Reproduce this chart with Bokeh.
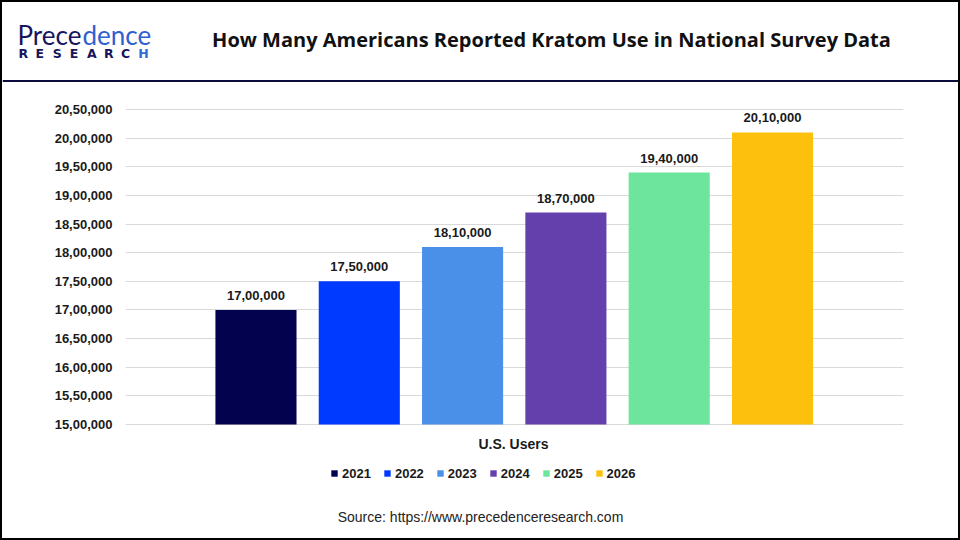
from bokeh.plotting import figure
from bokeh.models import (ColumnDataSource, Range1d, FixedTicker, LabelSet,
                          Legend, LegendItem, Span)
from bokeh.layouts import column
from bokeh.core.properties import value
from bokeh.embed import file_html
from bokeh.resources import INLINE

# data
years = ["2021", "2022", "2023", "2024", "2025", "2026"]
users = [1700000, 1750000, 1810000, 1870000, 1940000, 2010000]
value_labels = ["17,00,000", "17,50,000", "18,10,000", "18,70,000", "19,40,000", "20,10,000"]
colours = ["#02024F", "#0039FF", "#4A90E8", "#6440AC", "#6DE59C", "#FDC00C"]
y_ticks = [1500000, 1550000, 1600000, 1650000, 1700000, 1750000, 1800000,
           1850000, 1900000, 1950000, 2000000, 2050000]
y_tick_labels = ["15,00,000", "15,50,000", "16,00,000", "16,50,000", "17,00,000", "17,50,000",
                 "18,00,000", "18,50,000", "19,00,000", "19,50,000", "20,00,000", "20,50,000"]
title = "How Many Americans Reported Kratom Use in National Survey Data"
x_title = "U.S. Users"
source_note = "Source: https://www.precedenceresearch.com"

FONT = "Liberation Sans"
INK = "#1a1a1a"
NAVY = "#16155E"


def blank(h, y0, y1):
    # a figure whose frame is the whole canvas, data units = reference pixels
    f = figure(width=956, height=h, output_backend="svg", toolbar_location=None,
               x_range=Range1d(2, 958), y_range=Range1d(y1, y0),
               min_border=0, min_border_left=0, min_border_right=0,
               min_border_top=0, min_border_bottom=0)
    f.frame_align = False
    f.axis.visible = False
    f.grid.grid_line_color = None
    f.outline_line_color = None
    return f


def txt(f, x, y, s, size, colour=INK, style="bold", font=FONT, align="center"):
    f.text(x=[x], y=[y], text=[s], text_font=value(font), text_font_size=size,
           text_font_style=style, text_color=colour, text_align=align, text_baseline="middle")


# header: logo, title, rule
head = blank(80, 2, 82)
txt(head, 17, 34, "Prece", "26px", colour=NAVY, style="normal", font="Lato", align="left")
txt(head, 82, 34, "dence", "26px", colour="#2F5FD0", style="normal", font="Lato", align="left")
for k, ch in enumerate("RESEARCH"):
    txt(head, 18 + k * 17.1, 52.5, ch, "12.5px", colour="#2F6BD8" if k == 7 else NAVY,
        font="DejaVu Sans", align="left")
txt(head, 551, 38.5, title, "20px", colour="#111111", font="Open Sans")
head.add_layout(Span(location=80.7, dimension="width", line_color="#0B0B3D", line_width=2.5))

# main chart
step = 550000 / 315
p = figure(width=956, height=350, output_backend="svg", toolbar_location=None,
           x_range=Range1d(-1.263, 6.268), y_range=Range1d(1500000 - step, 2050000 + step),
           min_border_left=123, min_border_right=55, min_border_top=26, min_border_bottom=7)
p.frame_align = False
p.outline_line_color = None

src = ColumnDataSource(dict(x=list(range(len(years))), users=users, lab=value_labels))
for i, yr in enumerate(years):
    p.vbar(x=[i], top=[users[i]], bottom=1500000, width=0.785,
           fill_color=colours[i], line_color=None)

p.add_layout(LabelSet(x="x", y="users", text="lab", source=src, text_align="center",
                      text_baseline="alphabetic", y_offset=10, text_font=value(FONT),
                      text_font_style="bold", text_font_size="13px", text_color=INK))

p.xaxis.visible = False
p.xgrid.grid_line_color = None
p.yaxis.ticker = FixedTicker(ticks=y_ticks)
p.yaxis.major_label_overrides = {t: l for t, l in zip(y_ticks, y_tick_labels)}
p.yaxis.axis_line_color = None
p.yaxis.major_tick_line_color = None
p.yaxis.minor_tick_line_color = None
p.yaxis.major_tick_out = 0
p.yaxis.major_tick_in = 0
p.yaxis.major_label_standoff = 13
p.yaxis.major_label_text_font = FONT
p.yaxis.major_label_text_font_style = "bold"
p.yaxis.major_label_text_font_size = "13px"
p.yaxis.major_label_text_color = INK
p.ygrid.grid_line_color = "#d9d9d9"
p.ygrid.grid_line_width = 1

# footer: category name, legend, source
foot = blank(106, 432, 538)
txt(foot, 513, 443, x_title, "14px")
txt(foot, 480, 516.5, source_note, "14px", colour="#222222", style="normal")
items = []
for i, yr in enumerate(years):
    # drawn against the footer's pixel range, so only the legend swatch shows
    r = foot.vbar(x=[i], top=[users[i]], bottom=1500000, width=0.785,
                  fill_color=colours[i], line_color=None)
    items.append(LegendItem(label=yr, renderers=[r]))
legend = Legend(items=items, orientation="horizontal", location=(328, 57.5),
                glyph_width=8, glyph_height=8, label_standoff=4, spacing=12,
                padding=0, margin=0, border_line_color=None, background_fill_alpha=0,
                label_text_font=FONT, label_text_font_style="bold",
                label_text_font_size="13px", label_text_color=INK)
foot.add_layout(legend)

page = column(head, p, foot, spacing=0,
              styles={"border": "2px solid black", "background-color": "white"})

open("out.html", "w").write(file_html(page, INLINE))
